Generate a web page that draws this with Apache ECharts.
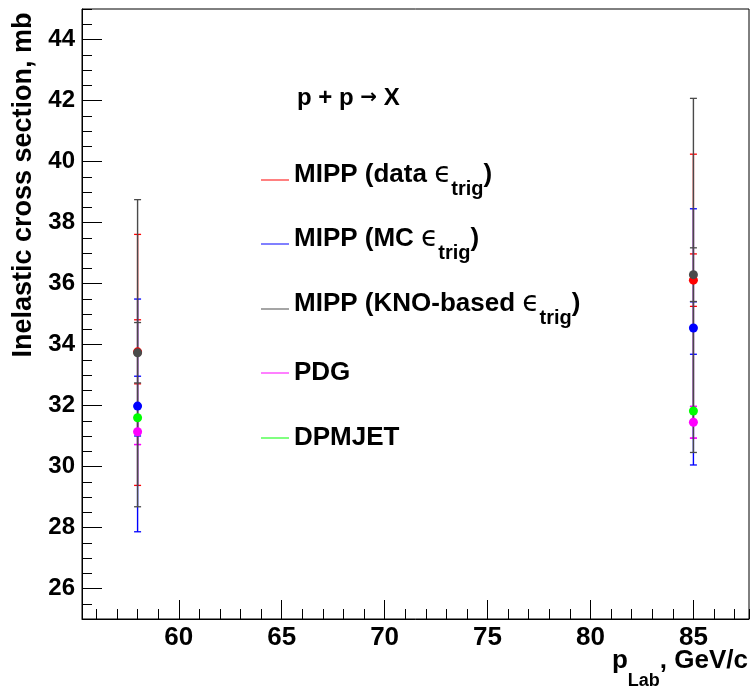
<!DOCTYPE html>
<html>
<head>
<meta charset="utf-8">
<script src="https://cdn.jsdelivr.net/npm/echarts@6/dist/echarts.min.js"></script>
<style>
  html, body { margin: 0; padding: 0; background: #fff; }
  #chart { width: 751px; height: 686px; }
</style>
</head>
<body>
<div id="chart"></div>
<script>
// Beam momenta (GeV/c)
const momenta = [58, 85];

// MIPP, data-driven trigger efficiency: value, stat error, total errors (+/-)
const dataTrig = [33.76, 36.11];
const dataTrigStat = [1.05, 0.86];
const dataTrigUp = [3.85, 4.13];
const dataTrigDown = [4.38, 4.70];

// MIPP, MC trigger efficiency
const mcTrig = [31.98, 34.54];
const mcTrigStat = [0.98, 0.86];
const mcTrigUp = [3.51, 3.91];
const mcTrigDown = [4.12, 4.49];

// MIPP, KNO-based trigger efficiency
const knoTrig = [33.73, 36.29];
const knoTrigStat = [0.99, 0.88];
const knoTrigUp = [5.02, 5.78];
const knoTrigDown = [5.05, 5.83];

// PDG reference values
const pdg = [31.14, 31.45];
const pdgErr = [0.42, 0.52];

// DPMJET prediction
const dpmjet = [31.60, 31.82];

const seriesNames = [
  'MIPP (data trig)',
  'MIPP (MC trig)',
  'MIPP (KNO-based trig)',
  'PDG',
  'DPMJET'
];
const legendLabels = [
  '{m|MIPP (data }{e|ϵ}{s|trig}{m|)}',
  '{m|MIPP (MC }{e|ϵ}{s|trig}{m|)}',
  '{m|MIPP (KNO-based }{e|ϵ}{s|trig}{m|)}',
  '{p|PDG}',
  '{p|DPMJET}'
];
const seriesColors = ['#ff0000', '#0000ff', '#4a4a4a', '#ff00ff', '#00ff00'];
const legendTops = [161, 225, 290, 360, 425];

const xTitle = '{p|p}{s|Lab}{p|, GeV/c}';
const yTitle = 'Inelastic cross section, mb';

const FONT = '"Liberation Sans", Arial, Helvetica, sans-serif';

function errorRows(vals, stat, up, down) {
  return momenta.map((x, i) => [x, vals[i], stat[i], up[i], down[i]]);
}
function pointRows(vals) {
  return momenta.map((x, i) => [x, vals[i]]);
}

// vertical error bar with end caps for the inner (stat) and outer (total) errors
function renderErrorBar(params, api) {
  const x = api.value(0), y = api.value(1);
  const s = api.value(2), eu = api.value(3), ed = api.value(4);
  const color = api.visual('color');
  const half = 3.5;
  const top = api.coord([x, y + eu]);
  const bot = api.coord([x, y - ed]);
  const sTop = api.coord([x, y + s]);
  const sBot = api.coord([x, y - s]);
  const st = { stroke: color, lineWidth: 1.4 };
  const cap = (p) => ({ type: 'line', shape: { x1: p[0] - half, y1: p[1], x2: p[0] + half, y2: p[1] }, style: { stroke: color, lineWidth: 1.3 } });
  return {
    type: 'group',
    children: [
      { type: 'line', shape: { x1: top[0], y1: top[1], x2: bot[0], y2: bot[1] }, style: st },
      cap(top), cap(bot), cap(sTop), cap(sBot)
    ]
  };
}

function errorSeries(idx, rows) {
  return {
    type: 'custom',
    name: seriesNames[idx],
    silent: true,
    itemStyle: { color: seriesColors[idx] },
    encode: { x: 0, y: 1 },
    renderItem: renderErrorBar,
    data: rows
  };
}
function markerSeries(idx, rows) {
  return {
    type: 'scatter',
    name: seriesNames[idx],
    silent: true,
    symbol: 'circle',
    symbolSize: 9,
    itemStyle: { color: seriesColors[idx], opacity: 1 },
    data: rows
  };
}

const legendRich = {
  m: { fontFamily: FONT, fontSize: 26, fontWeight: 'bold', color: '#000', padding: [0, 0, 10, 0] },
  p: { fontFamily: FONT, fontSize: 26, fontWeight: 'bold', color: '#000' },
  e: { fontFamily: '"DejaVu Sans", sans-serif', fontSize: 28, color: '#000', padding: [0, 0, 10, 0] },
  s: { fontFamily: FONT, fontSize: 20, fontWeight: 'bold', color: '#000', padding: [19, 0, 0, 0] }
};

const chart = echarts.init(document.getElementById('chart'), null, { renderer: 'canvas' });

const axisLabelBase = { fontFamily: FONT, fontWeight: 'bold', color: '#000', showMinLabel: false, showMaxLabel: false };

const option = {
  animation: false,
  backgroundColor: '#ffffff',
  textStyle: { fontFamily: FONT },
  grid: {
    left: 82, right: 2, top: 9, bottom: 67,
    outerBoundsMode: 'none', containLabel: false,
    show: true, borderColor: '#000', borderWidth: 1, backgroundColor: 'transparent'
  },
  title: {
    text: '{b|p + p }{a|→}{b| X}',
    left: 297,
    top: 86,
    padding: 0,
    textStyle: {
      rich: {
        b: { fontFamily: FONT, fontSize: 24, fontWeight: 'bold', color: '#000' },
        a: { fontFamily: '"DejaVu Sans", sans-serif', fontSize: 20, color: '#000' }
      }
    }
  },
  // x-axis title with subscript, right-aligned under the axis end
  graphic: [
    {
      type: 'text',
      right: 3,
      top: 648,
      silent: true,
      style: {
        text: xTitle,
        rich: {
          p: { fontFamily: FONT, fontSize: 26, fontWeight: 'bold', fill: '#000' },
          s: { fontFamily: FONT, fontSize: 18, fontWeight: 'bold', fill: '#000', padding: [40, 0, 0, 0] }
        }
      }
    }
  ],
  legend: seriesNames.map((n, i) => ({
    data: [{ name: n, icon: 'rect' }],
    left: 261,
    top: legendTops[i],
    padding: 0,
    itemWidth: 28,
    itemHeight: 1,
    selectedMode: false,
    formatter: () => legendLabels[i],
    textStyle: { color: '#000', rich: legendRich }
  })),
  xAxis: [
    {
      type: 'value', min: 55.3, max: 87.7, splitNumber: 6, position: 'bottom',
      axisLine: { show: true, lineStyle: { color: '#000', width: 1 } },
      axisTick: { inside: true, length: 19, lineStyle: { color: '#000', width: 1 } },
      splitLine: { show: false },
      axisLabel: Object.assign({ fontSize: 26, margin: 6 }, axisLabelBase)
    },
    {
      type: 'value', min: 55.3, max: 87.7, splitNumber: 32, position: 'bottom',
      axisLine: { show: false },
      axisTick: { inside: true, length: 10, lineStyle: { color: '#000', width: 1 } },
      splitLine: { show: false },
      axisLabel: { show: false }
    }
  ],
  yAxis: [
    {
      type: 'value', min: 25, max: 45, splitNumber: 10, position: 'left',
      axisLine: { show: true, lineStyle: { color: '#000', width: 1 } },
      axisTick: { inside: true, length: 20, lineStyle: { color: '#000', width: 1 } },
      splitLine: { show: false },
      axisLabel: Object.assign({ fontSize: 24, margin: 7 }, axisLabelBase),
      name: yTitle,
      nameLocation: 'middle',
      nameRotate: 90,
      nameGap: 44,
      nameTruncate: { maxWidth: 800 },
      nameTextStyle: {
        fontFamily: FONT, fontSize: 27, fontWeight: 'bold', color: '#000',
        align: 'center', verticalAlign: 'bottom', padding: [0, 0, 0, 258]
      }
    },
    {
      type: 'value', min: 25, max: 45, splitNumber: 40, position: 'left',
      axisLine: { show: false },
      axisTick: { inside: true, length: 10, lineStyle: { color: '#000', width: 1 } },
      splitLine: { show: false },
      axisLabel: { show: false }
    }
  ],
  series: [
    errorSeries(3, errorRows(pdg, pdgErr, pdgErr, pdgErr)),
    errorSeries(0, errorRows(dataTrig, dataTrigStat, dataTrigUp, dataTrigDown)),
    errorSeries(1, errorRows(mcTrig, mcTrigStat, mcTrigUp, mcTrigDown)),
    errorSeries(2, errorRows(knoTrig, knoTrigStat, knoTrigUp, knoTrigDown)),
    markerSeries(0, pointRows(dataTrig)),
    markerSeries(1, pointRows(mcTrig)),
    markerSeries(2, pointRows(knoTrig)),
    markerSeries(3, pointRows(pdg)),
    markerSeries(4, pointRows(dpmjet))
  ]
};

chart.setOption(option);
</script>
</body>
</html>
